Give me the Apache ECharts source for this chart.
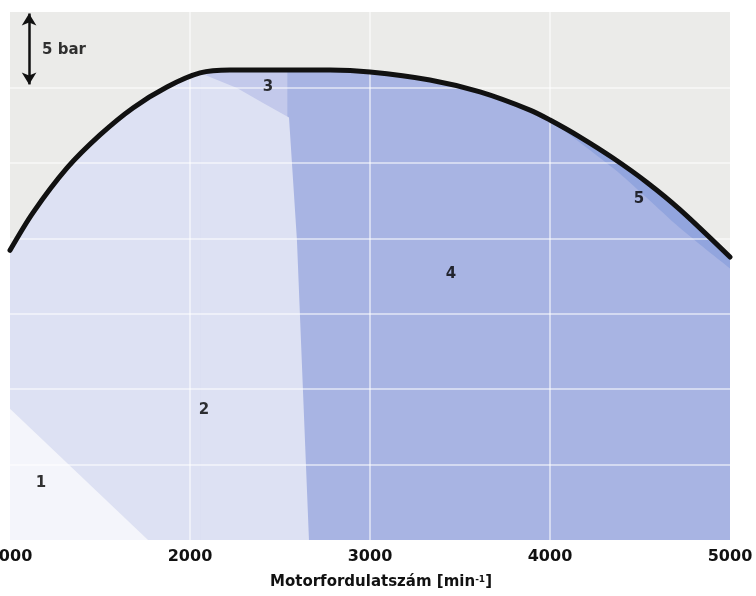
<!DOCTYPE html>
<html>
<head>
<meta charset="utf-8">
<script src="https://cdn.jsdelivr.net/npm/echarts@6/dist/echarts.min.js"></script>
<style>
html,body{margin:0;padding:0;background:#fff;}
#c{width:756px;height:596px;}
</style>
</head>
<body>
<div id="c"></div>
<script>
// ---- data (engine speed in min^-1, pressure in bar) ----
const rpmTicks = [1000, 2000, 3000, 4000, 5000];
const fullLoadRpm = [1000, 1128, 1317, 1500, 1683, 1872, 2056, 2222, 2540, 2778, 3000, 3333, 3611, 3889, 4000, 4167, 4350, 4539, 4722, 5000];
const fullLoadBar = [19.2, 21.7, 24.66, 26.85, 28.64, 30.03, 30.96, 31.15, 31.15, 31.15, 31.02, 30.49, 29.7, 28.5, 27.84, 26.71, 25.32, 23.7, 21.9, 18.76];

const zone1EdgeRpm = [1000, 1767];
const zone1EdgeBar = [8.7, 0];

const zone3Range = [2056, 2540];
const zone4Range = [2540, 5000];
const zone5Range = [4000, 5000];

const zone2EdgeRpm = [2056, 2261, 2406, 2550, 2594, 2661];
const zone2EdgeBar = [30.96, 29.96, 28.97, 28.0, 19.9, 0];

const zone5EdgeRpm = [4000, 4350, 4539, 4722, 5000];
const zone5EdgeBar = [27.84, 24.66, 22.67, 20.68, 18.0];

const zoneLabels = ['1', '2', '3', '4', '5'];
const zoneLabelRpm = [1172, 2078, 2433, 3450, 4494];
const zoneLabelBar = [3.8, 8.6, 30.0, 17.6, 22.6];

const scaleBarRpm = 1106;
const scaleBarBar = [30.2, 34.9];
const scaleBarText = '5 bar';
const scaleTextRpm = 1178;
const scaleTextBar = 32.5;

// ---- build ----
const FONT = 'DejaVu Sans';
const pairs = (xs, ys) => xs.map((x, i) => [x, ys[i]]);
const curveIn = (a, b) => fullLoadRpm.map((r, i) => (r >= a && r <= b) ? [r, fullLoadBar[i]] : [r, null]);

const C2 = '#dde1f3', C1 = '#f4f5fb', C3 = '#c3c9eb', C4 = '#a8b4e3', C5 = '#92a5de';

function area(name, data, color, z, smooth) {
  return {
    name, type: 'line', data, smooth: smooth ? 0.3 : false, showSymbol: false, silent: true,
    connectNulls: false, z,
    lineStyle: { width: 0, color },
    areaStyle: { color, opacity: 1 },
  };
}

const chart = echarts.init(document.getElementById('c'), null, { renderer: 'canvas' });
chart.setOption({
  animation: false,
  backgroundColor: '#ffffff',
  grid: { left: 10, right: 26, top: 12, bottom: 56, containLabel: false, outerBoundsMode: 'none', show: true, backgroundColor: '#ebebe9', borderWidth: 0 },
  xAxis: {
    type: 'value', min: rpmTicks[0], max: rpmTicks[rpmTicks.length - 1], interval: 1000, z: 9,
    axisLine: { show: false }, axisTick: { show: false },
    axisLabel: { margin: 9, color: '#111111', fontFamily: FONT, fontWeight: 'bold', fontSize: 16, showMinLabel: true, showMaxLabel: true, formatter: v => String(v), hideOverlap: false },
    splitLine: { show: true, showMinLine: false, showMaxLine: false, lineStyle: { color: 'rgba(255,255,255,0.5)', width: 2 } },
    name: 'Motorfordulatszám [min{s|-1}]',
    nameLocation: 'middle', nameGap: 35,
    nameTextStyle: {
      color: '#111111', fontFamily: FONT, fontWeight: 'bold', fontSize: 15, padding: [0, 0, 0, 22],
      rich: { s: { fontFamily: FONT, fontWeight: 'bold', fontSize: 9, verticalAlign: 'top', padding: [0, 0, 6, 0], color: '#111111' } }
    }
  },
  yAxis: {
    type: 'value', min: 0, max: 35, interval: 5, z: 9,
    axisLine: { show: false }, axisTick: { show: false }, axisLabel: { show: false },
    splitLine: { show: true, showMinLine: false, showMaxLine: false, lineStyle: { color: 'rgba(255,255,255,0.5)', width: 2 } }
  },
  series: [
    area('zone2', pairs(fullLoadRpm, fullLoadBar), C2, 2, true),
    area('zone3', curveIn(zone3Range[0], zone3Range[1]), C3, 3, true),
    area('zone4', curveIn(zone4Range[0], zone4Range[1]), C4, 4, true),
    area('zone5', curveIn(zone5Range[0], zone5Range[1]), C5, 5, true),
    area('zone4edge', pairs(zone5EdgeRpm, zone5EdgeBar), C4, 6, true),
    area('zone2edge', pairs(zone2EdgeRpm, zone2EdgeBar), C2, 7, false),
    area('zone1', pairs(zone1EdgeRpm, zone1EdgeBar), C1, 8, false),
    {
      name: 'fullLoad', type: 'line', data: pairs(fullLoadRpm, fullLoadBar), smooth: 0.3,
      showSymbol: false, silent: true, z: 10,
      lineStyle: { color: '#111111', width: 5, cap: 'round' }
    },
    {
      name: 'labels', type: 'scatter', z: 11, silent: true, symbolSize: 0,
      data: zoneLabels.map((t, i) => ({ value: [zoneLabelRpm[i], zoneLabelBar[i]], name: t })),
      label: { show: true, position: 'inside', formatter: p => p.name, color: '#000000', fontFamily: FONT, fontWeight: 'bold', fontSize: 15 }
    },
    {
      name: 'scale', type: 'scatter', z: 11, silent: true, symbolSize: 0,
      data: [{ value: [scaleTextRpm, scaleTextBar], name: scaleBarText }],
      label: { show: true, position: 'right', distance: 0, formatter: p => p.name, color: '#000000', fontFamily: FONT, fontWeight: 'bold', fontSize: 15 },
      markLine: {
        silent: true, symbol: ['arrow', 'arrow'], symbolSize: [11, 12], animation: false,
        lineStyle: { color: '#111111', width: 2.5, type: 'solid' }, label: { show: false },
        data: [[{ coord: [scaleBarRpm, scaleBarBar[0]] }, { coord: [scaleBarRpm, scaleBarBar[1]] }]]
      }
    }
  ]
});
</script>
</body>
</html>
